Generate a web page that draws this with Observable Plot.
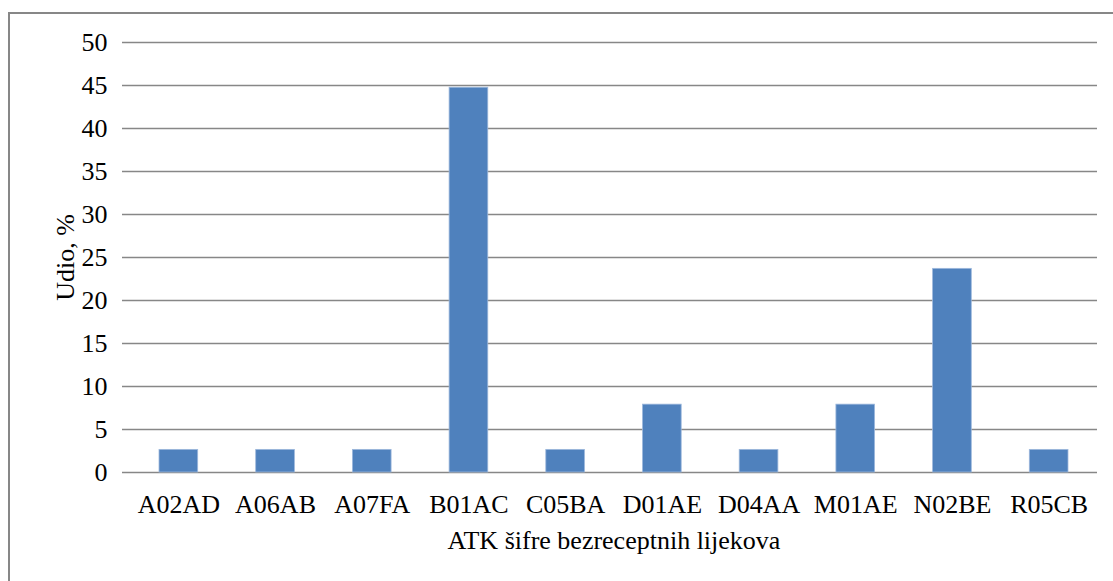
<!DOCTYPE html>
<html>
<head>
<meta charset="utf-8">
<script src="https://cdn.jsdelivr.net/npm/d3@7"></script>
<script src="https://cdn.jsdelivr.net/npm/@observablehq/plot@0.6"></script>
<style>
  html, body { margin: 0; padding: 0; background: #fff; overflow: hidden; }
  #wrap { position: relative; width: 1113px; height: 581px; }
  #border { position: absolute; left: 8px; top: 12px; width: 1200px; height: 700px;
            border: 2px solid #878787; box-sizing: border-box; }
  #chart { position: absolute; left: 0; top: 0; }
  #chart svg text { font-family: 'Liberation Serif', 'Times New Roman', serif; }
</style>
</head>
<body>
<div id="wrap">
  <div id="border"></div>
  <div id="chart"></div>
</div>
<script>
const categories = ["A02AD","A06AB","A07FA","B01AC","C05BA","D01AE","D04AA","M01AE","N02BE","R05CB"];
const values = [2.63, 2.63, 2.63, 44.74, 2.63, 7.89, 2.63, 7.89, 23.68, 2.63];
const yTicks = [0, 5, 10, 15, 20, 25, 30, 35, 40, 45, 50];
const xTitle = "ATK šifre bezreceptnih lijekova";
const yTitle = "Udio, %";

const data = categories.map((c, i) => ({cat: c, val: values[i]}));
const grid = "#878787";
const font = "'Liberation Serif', 'Times New Roman', serif";

const chart = Plot.plot({
  width: 1113,
  height: 581,
  marginLeft: 130,
  marginRight: 16,
  marginTop: 42,
  marginBottom: 109,
  style: {fontFamily: font, fontSize: "26px", color: "#000", background: "transparent", overflow: "visible"},
  x: {domain: categories, paddingInner: 0.6, paddingOuter: 0.3, round: false},
  y: {domain: [0, 50]},
  marks: [
    Plot.ruleY(yTicks, {stroke: grid, strokeWidth: 1.5, strokeOpacity: 1}),
    Plot.ruleX([0], {frameAnchor: "left", stroke: grid, strokeWidth: 1.5}),
    Plot.barY(data, {x: "cat", y: "val", fill: "#4F81BD", stroke: "#9DB8DC", strokeWidth: 0.8}),
    Plot.axisY({ticks: yTicks, tickSize: 8, tickPadding: 15, stroke: grid, strokeWidth: 1.5, label: yTitle, labelAnchor: "center", labelArrow: "none", labelOffset: 75, fill: "#000", fontSize: 26, fontFamily: font}),
    Plot.axisX({tickSize: 0, tickPadding: 22, label: xTitle, labelAnchor: "center", labelArrow: "none", labelOffset: 76, fill: "#000", fontSize: 26, fontFamily: font})
  ]
});
document.getElementById("chart").appendChild(chart);
</script>
</body>
</html>
